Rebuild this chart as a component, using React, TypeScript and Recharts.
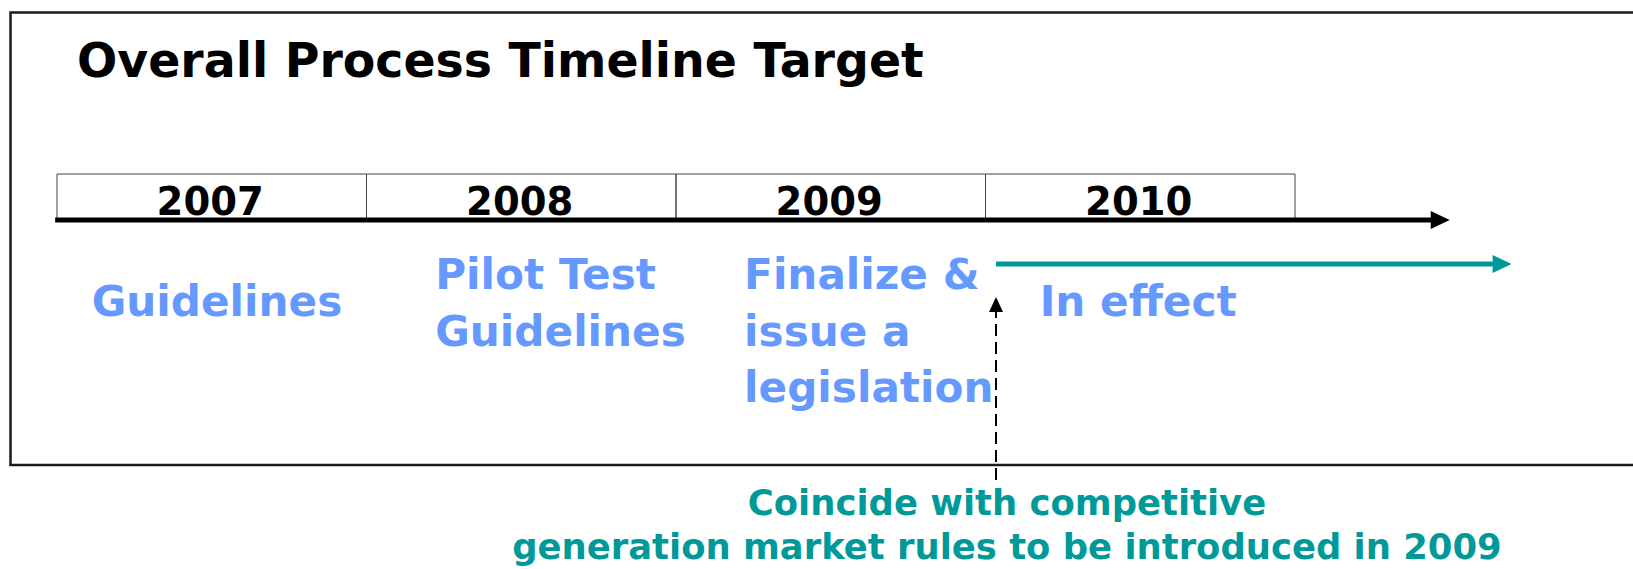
import { ComposedChart, XAxis, YAxis, Scatter, ReferenceArea, ReferenceLine } from 'recharts'

// timeline data (x axis = calendar years)
const years = [2007, 2008, 2009, 2010]
const yearLabels = ['2007', '2008', '2009', '2010']

const phaseLabels = [
  ['Guidelines'],
  ['Pilot Test', 'Guidelines'],
  ['Finalize &', 'issue a', 'legislation'],
  ['In effect'],
]
const phaseStart = [2007.112, 2008.222, 2009.22, 2010.175]
const phaseRow = [1, 0, 0, 1] // 0 = upper text row, 1 = lower text row

const timelineStart = 2006.994
const timelineEnd = 2011.5
const effectStart = 2010.034
const effectEnd = 2011.7

const title = 'Overall Process Timeline Target'
const noteLines = ['Coincide with competitive', 'generation market rules to be introduced in 2009']

// layout
const W = 1633
const H = 569
const PX_PER_YEAR = 309.5
const ORIGIN_PX = 57
const xMin = years[0] - ORIGIN_PX / PX_PER_YEAR
const xMax = xMin + W / PX_PER_YEAR
const yrs = (p: number) => p / PX_PER_YEAR

const FRAME_TOP = 12.5
const FRAME_BOTTOM = 465
const TITLE_BASE = 77
const BOX_TOP = 174
const AXIS_Y = 220
const YEAR_BASE = 215
const EFFECT_Y = 264
const ROW_BASE = [289, 316]
const LINE_GAP = 56.7
const NOTE_TIP = 297
const NOTE_BOTTOM = 480
const NOTE_BASE = 515
const NOTE_GAP = 44

const FONT = '"DejaVu Sans", Verdana, sans-serif'
const BLUE = '#6699ff'
const TEAL = '#009999'

function textShape(size: number, color: string, anchor: 'start' | 'middle', gap: number) {
  return (p: any) => (
    <text
      x={p.cx}
      y={p.cy}
      fontFamily={FONT}
      fontWeight="bold"
      fontSize={size}
      fill={color}
      textAnchor={anchor}
    >
      {p.payload.lines.map((l: string, i: number) => (
        <tspan key={i} x={p.cx} dy={i === 0 ? 0 : gap}>
          {l}
        </tspan>
      ))}
    </text>
  )
}

function arrowHead(dir: 'right' | 'up', len: number, half: number, color: string) {
  return (p: any) => {
    const { cx, cy } = p
    const pts =
      dir === 'right'
        ? `${cx},${cy} ${cx - len},${cy - half} ${cx - len},${cy + half}`
        : `${cx},${cy} ${cx - half},${cy + len} ${cx + half},${cy + len}`
    return <polygon points={pts} fill={color} />
  }
}

export default function App() {
  const titleData = [{ x: xMin + yrs(77), y: TITLE_BASE, lines: [title] }]
  const yearData = years.map((yr, i) => ({ x: yr + 0.495, y: YEAR_BASE, lines: [yearLabels[i]] }))
  const phaseData = phaseLabels.map((lines, i) => ({ x: phaseStart[i], y: ROW_BASE[phaseRow[i]], lines }))
  const noteData = [{ x: xMin + yrs(1007), y: NOTE_BASE, lines: noteLines }]

  return (
    <div style={{ position: 'absolute', left: 0, top: 0, background: '#fff' }}>
      <ComposedChart width={W} height={H} margin={{ top: 0, right: 0, bottom: 0, left: 0 }}>
        <XAxis type="number" dataKey="x" domain={[xMin, xMax]} hide allowDataOverflow />
        <YAxis type="number" dataKey="y" domain={[0, H]} reversed hide allowDataOverflow />

        <ReferenceArea
          x1={xMin + yrs(10.5)}
          x2={xMax + 1}
          y1={FRAME_TOP}
          y2={FRAME_BOTTOM}
          fill="none"
          stroke="#1a1a1a"
          strokeWidth={2.5}
          ifOverflow="visible"
        />

        {years.map((yr) => (
          <ReferenceArea
            key={yr}
            x1={yr}
            x2={yr + 1}
            y1={BOX_TOP}
            y2={AXIS_Y}
            fill="none"
            stroke="#444"
            strokeWidth={1}
            ifOverflow="visible"
          />
        ))}

        <ReferenceLine
          segment={[
            { x: timelineStart, y: AXIS_Y },
            { x: timelineEnd - yrs(17), y: AXIS_Y },
          ]}
          stroke="#000"
          strokeWidth={5}
        />
        <ReferenceLine
          segment={[
            { x: effectStart, y: EFFECT_Y },
            { x: effectEnd - yrs(17), y: EFFECT_Y },
          ]}
          stroke={TEAL}
          strokeWidth={5}
        />
        <ReferenceLine
          segment={[
            { x: effectStart, y: NOTE_BOTTOM },
            { x: effectStart, y: NOTE_TIP + 14 },
          ]}
          stroke="#000"
          strokeWidth={2}
          strokeDasharray="12 6"
        />

        <Scatter
          data={[{ x: timelineEnd, y: AXIS_Y }]}
          shape={arrowHead('right', 19, 9, '#000')}
          isAnimationActive={false}
        />
        <Scatter
          data={[{ x: effectEnd, y: EFFECT_Y }]}
          shape={arrowHead('right', 19, 9, TEAL)}
          isAnimationActive={false}
        />
        <Scatter
          data={[{ x: effectStart, y: NOTE_TIP }]}
          shape={arrowHead('up', 15, 7, '#000')}
          isAnimationActive={false}
        />

        <Scatter data={titleData} shape={textShape(47.4, '#000', 'start', 0)} isAnimationActive={false} />
        <Scatter data={yearData} shape={textShape(38.5, '#000', 'middle', 0)} isAnimationActive={false} />
        <Scatter data={phaseData} shape={textShape(42.2, BLUE, 'start', LINE_GAP)} isAnimationActive={false} />
        <Scatter data={noteData} shape={textShape(35.4, TEAL, 'middle', NOTE_GAP)} isAnimationActive={false} />
      </ComposedChart>
    </div>
  )
}
